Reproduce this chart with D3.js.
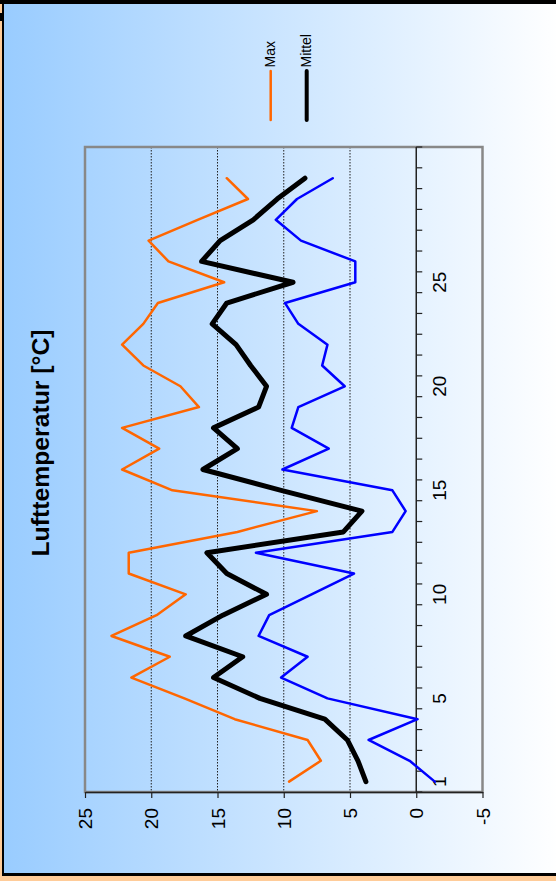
<!DOCTYPE html>
<html>
<head>
<meta charset="utf-8">
<script src="https://cdn.jsdelivr.net/npm/d3@7"></script>
<style>
html,body{margin:0;padding:0;overflow:hidden;background:#FFCC99;}
svg{display:block;font-family:"Liberation Sans",Arial,Helvetica,sans-serif;}
</style>
</head>
<body>
<svg id="chart" width="556" height="881"></svg>
<script>
// ---------- data ----------
const days = [1,2,3,4,5,6,7,8,9,10,11,12,13,14,15,16,17,18,19,20,21,22,23,24,25,26,27,28,29,30,31];
const dayLabels = [1,5,10,15,20,25];
const valueTicks = [25,20,15,10,5,0,-5];
const gridValues = [20,15,10,5];
const titleText = "Lufttemperatur [°C]";
const seriesNames = ["Max","Mittel","Min"];
const seriesColors = ["#FF6600","#000000","#0000FF"];
const maxValues = [9.6,7.2,8.2,13.7,17.5,21.5,18.6,23.0,19.6,17.4,21.7,21.7,13.5,7.5,18.4,22.2,19.4,22.2,16.4,17.8,20.6,22.2,20.6,19.5,14.5,18.7,20.2,16.5,12.7,14.3];
const mittelValues = [3.8,4.4,5.2,6.9,11.8,15.3,13.1,17.4,14.6,11.3,14.3,15.8,5.5,4.1,10.2,16.1,13.5,15.3,11.9,11.3,12.5,13.6,15.4,14.3,9.3,16.2,14.8,12.3,10.5,8.4];
const minValues = [-1.4,0.5,3.6,-0.1,6.7,10.2,8.2,11.9,11.1,7.9,4.7,12.1,1.8,0.8,1.8,10.1,6.6,9.4,8.9,5.4,7.1,6.7,8.9,9.9,4.6,4.6,8.7,10.6,9.0,6.3];

// ---------- layout ----------
const W = 556, H = 881;
const plot = {left:85, right:482.5, top:147, bottom:792};

const svg = d3.select("#chart");
const defs = svg.append("defs");
const grad = defs.append("linearGradient").attr("id","bg").attr("x1","0").attr("x2","1").attr("y1","0").attr("y2","0");
grad.append("stop").attr("offset","0%").attr("stop-color","#99CCFF");
grad.append("stop").attr("offset","100%").attr("stop-color","#FFFFFF");

// frame
svg.append("rect").attr("x",0).attr("y",0).attr("width",W).attr("height",H).attr("fill","#FFCC99");
svg.append("rect").attr("x",2).attr("y",0).attr("width",W).attr("height",876).attr("fill","#000");
svg.append("rect").attr("x",0).attr("y",0).attr("width",W).attr("height",4).attr("fill","#000");
svg.append("rect").attr("x",0).attr("y",13).attr("width",2).attr("height",8).attr("fill","#000");
svg.append("rect").attr("x",4).attr("y",4).attr("width",W).attr("height",869).attr("fill","url(#bg)");

// scales
const x = d3.scaleLinear().domain([25,-5]).range([plot.left, plot.right]);
const y = d3.scaleBand().domain(days).range([plot.bottom, plot.top]);
const cy = d => y(d) + y.bandwidth()/2;

// gridlines
svg.append("g").selectAll("line").data(gridValues).join("line")
  .attr("x1",d=>x(d)).attr("x2",d=>x(d))
  .attr("y1",plot.top).attr("y2",plot.bottom)
  .attr("stroke","#222").attr("stroke-width",1).attr("stroke-dasharray","1.5,1.5");

// plot border (grey)
svg.append("rect").attr("x",plot.left).attr("y",plot.top)
  .attr("width",plot.right-plot.left).attr("height",plot.bottom-plot.top)
  .attr("fill","none").attr("stroke","#888").attr("stroke-width",2.5);

// value axis (bottom)
const vAxis = d3.axisBottom(x).tickValues(valueTicks).tickSize(6).tickSizeOuter(0).tickFormat("");
const vg = svg.append("g").attr("transform",`translate(0,${plot.bottom})`).call(vAxis);
vg.select(".domain").attr("stroke","#222").attr("stroke-width",1.5);
vg.selectAll(".tick line").attr("stroke","#222").attr("stroke-width",1.2);

svg.append("g").selectAll("text").data(valueTicks).join("text")
  .attr("transform",d=>`translate(${x(d)+7},808) rotate(-90)`)
  .attr("text-anchor","end")
  .attr("font-size",19)
  .attr("fill","#000")
  .text(d=>d);

// category axis at 0
const x0 = x(0);
svg.append("line").attr("x1",x0).attr("x2",x0).attr("y1",plot.top).attr("y2",plot.bottom)
  .attr("stroke","#222").attr("stroke-width",1.5);
const boundaries = days.map(d=>y(d)).concat([y(days[0])+y.bandwidth()]);
svg.append("g").selectAll("line").data(boundaries).join("line")
  .attr("x1",x0).attr("x2",x0+6).attr("y1",d=>d).attr("y2",d=>d)
  .attr("stroke","#222").attr("stroke-width",1.2);
svg.append("g").selectAll("text").data(dayLabels).join("text")
  .attr("transform",d=>`translate(446,${cy(d)}) rotate(-90)`)
  .attr("text-anchor","middle")
  .attr("font-size",19)
  .attr("fill","#000")
  .text(d=>d);

// series lines
const line = d3.line().x(p=>x(p[1])).y(p=>cy(p[0]));
function seriesData(vals){ return vals.map((v,i)=>[days[i],v]); }
const seriesList = [
  {name:seriesNames[2], color:seriesColors[2], width:2.5, values:minValues},
  {name:seriesNames[0], color:seriesColors[0], width:2.5, values:maxValues},
  {name:seriesNames[1], color:seriesColors[1], width:5, values:mittelValues}
];
svg.append("g").selectAll("path").data(seriesList).join("path")
  .attr("d",s=>line(seriesData(s.values)))
  .attr("fill","none")
  .attr("stroke",s=>s.color)
  .attr("stroke-width",s=>s.width)
  .attr("stroke-linejoin","round")
  .attr("stroke-linecap","round");

// title
svg.append("text")
  .attr("transform","translate(48.5,443) rotate(-90)")
  .attr("text-anchor","middle")
  .attr("font-size",24)
  .attr("font-weight","bold")
  .attr("fill","#000")
  .attr("textLength",227)
  .attr("lengthAdjust","spacingAndGlyphs")
  .text(titleText);

// legend
const legendItems = [
  {name:seriesNames[0], color:seriesColors[0], width:2.5, lx:270.7, tx:275},
  {name:seriesNames[1], color:seriesColors[1], width:4, lx:306.7, tx:310.5}
];
const lg = svg.append("g");
lg.selectAll("line").data(legendItems).join("line")
  .attr("x1",d=>d.lx).attr("x2",d=>d.lx).attr("y1",71).attr("y2",120)
  .attr("stroke",d=>d.color).attr("stroke-width",d=>d.width).attr("stroke-linecap","round");
lg.selectAll("text").data(legendItems).join("text")
  .attr("transform",d=>`translate(${d.tx},67.5) rotate(-90)`)
  .attr("text-anchor","start")
  .attr("font-size",14)
  .attr("fill","#000")
  .text(d=>d.name);
</script>
</body>
</html>
